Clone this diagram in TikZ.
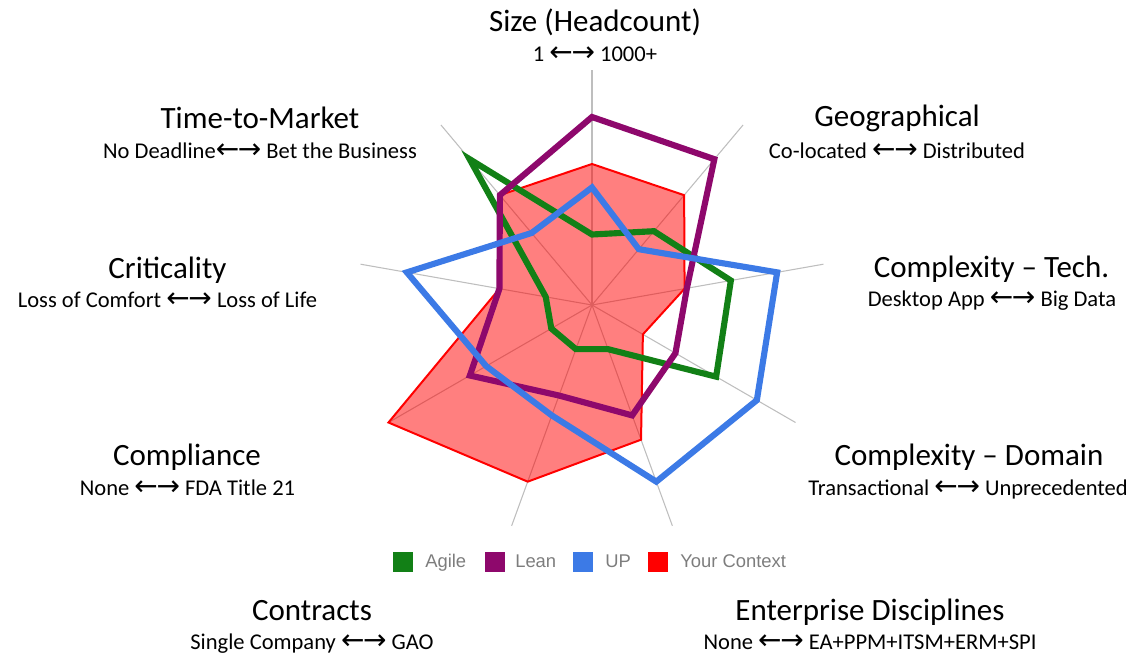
\documentclass[tikz,border=0pt]{standalone}
\usepackage{fontspec}
\setmainfont{Carlito}
\newfontfamily\legendfont{Liberation Sans}
\newfontfamily\arrowfont{DejaVu Sans}
\usetikzlibrary{calc}
\definecolor{agile}{RGB}{18,128,22}
\definecolor{lean}{RGB}{142,8,108}
\definecolor{up}{RGB}{60,122,230}
\definecolor{context}{RGB}{255,0,0}
\definecolor{spokegray}{RGB}{190,190,190}
\definecolor{legendgray}{RGB}{125,125,125}
\newcommand{\lrarrows}{{\arrowfont\fontsize{21}{20}\selectfont ←\kern-1pt→}}

\begin{document}
\begin{tikzpicture}[x=0.75pt,y=-0.75pt]
	\tikzset{spoke/.style = {draw=spokegray, line width=0.8pt}}
	\tikzset{series/.style = {line width=4.6pt, line join=miter}}
	\tikzset{contextarea/.style = {fill=context, fill opacity=0.5, draw=context, line width=1.5pt, line join=miter}}
	\tikzset{axtitle/.style = {anchor=base, inner sep=0pt, font=\fontsize{23.25}{28}\selectfont}}
	\tikzset{axrange/.style = {anchor=base, inner sep=0pt, font=\fontsize{16.9}{20}\selectfont}}
	\tikzset{legbox/.style = {minimum size=15pt, inner sep=0pt}}
	\tikzset{legtext/.style = {anchor=base west, inner sep=0pt, text=legendgray, font=\legendfont\fontsize{13.8}{15}\selectfont}}

	\useasboundingbox (0,0) rectangle (1140,660);

	% centre and axis ends, clockwise from the top
	\coordinate (c) at (592,305);
	\foreach \a [count=\i] in {0,40,...,320}
		\coordinate (ax\i) at ($(c)+(\a-90:235)$);
	\foreach \i in {1,...,9}
		\draw[spoke] (c) -- (ax\i);

	% Your Context
	\filldraw[contextarea] ($(c)!.60!(ax1)$) -- ($(c)!.61!(ax2)$) -- ($(c)!.40!(ax3)$)
		-- ($(c)!.25!(ax4)$) -- ($(c)!.61!(ax5)$) -- ($(c)!.80!(ax6)$)
		-- ($(c)!1!(ax7)$) -- ($(c)!.40!(ax8)$) -- ($(c)!.61!(ax9)$) -- cycle;

	% Agile
	\draw[series, draw=agile] ($(c)!.30!(ax1)$) -- ($(c)!.41!(ax2)$) -- ($(c)!.60!(ax3)$)
		-- ($(c)!.61!(ax4)$) -- ($(c)!.20!(ax5)$) -- ($(c)!.20!(ax6)$)
		-- ($(c)!.20!(ax7)$) -- ($(c)!.20!(ax8)$) -- ($(c)!.81!(ax9)$) -- cycle;

	% Lean
	\draw[series, draw=lean] ($(c)!.80!(ax1)$) -- ($(c)!.81!(ax2)$) -- ($(c)!.41!(ax3)$)
		-- ($(c)!.41!(ax4)$) -- ($(c)!.50!(ax5)$) -- ($(c)!.41!(ax6)$)
		-- ($(c)!.60!(ax7)$) -- ($(c)!.40!(ax8)$) -- ($(c)!.61!(ax9)$) -- cycle;

	% UP
	\draw[series, draw=up] ($(c)!.50!(ax1)$) -- ($(c)!.31!(ax2)$) -- ($(c)!.80!(ax3)$)
		-- ($(c)!.81!(ax4)$) -- ($(c)!.80!(ax5)$) -- ($(c)!.50!(ax6)$)
		-- ($(c)!.52!(ax7)$) -- ($(c)!.80!(ax8)$) -- ($(c)!.40!(ax9)$) -- cycle;

	% axis labels
	\node[axtitle] (size) at (595,31.5) {Size (Headcount)};
	\node[axrange] (sizerange) at (595,61.5) {1 \lrarrows{} 1000+};
	\node[axtitle] (geo) at (897,127) {Geographical};
	\node[axrange] (georange) at (897,158) {Co-located \lrarrows{} Distributed};
	\node[axtitle] (tech) at (991.5,277) {Complexity – Tech.};
	\node[axrange] (techrange) at (992,306) {Desktop App \lrarrows{} Big Data};
	\node[axtitle] (domain) at (969,465) {Complexity – Domain};
	\node[axrange] (domainrange) at (968,495) {Transactional \lrarrows{} Unprecedented};
	\node[axtitle] (ent) at (870,620) {Enterprise Disciplines};
	\node[axrange] (entrange) at (870,649) {None \lrarrows{} EA+PPM+ITSM+ERM+SPI};
	\node[axtitle] (contracts) at (312,620) {Contracts};
	\node[axrange] (contractsrange) at (312,649) {Single Company \lrarrows{} GAO};
	\node[axtitle] (compliance) at (187,465) {Compliance};
	\node[axrange] (compliancerange) at (187.5,495) {None \lrarrows{} FDA Title 21};
	\node[axtitle] (crit) at (167.5,278) {Criticality};
	\node[axrange] (critrange) at (167.5,307) {Loss of Comfort \lrarrows{} Loss of Life};
	\node[axtitle] (ttm) at (260,128) {Time-to-Market};
	\node[axrange] (ttmrange) at (260,158) {No Deadline\lrarrows{} Bet the Business};

	% legend
	\node[legbox, fill=agile] (agilekey) at (403,562) {};
	\node[legtext] (agilelabel) at (425,567) {Agile};
	\node[legbox, fill=lean] (leankey) at (495,562) {};
	\node[legtext] (leanlabel) at (515,567) {Lean};
	\node[legbox, fill=up] (upkey) at (583,562) {};
	\node[legtext] (uplabel) at (605,567) {UP};
	\node[legbox, fill=context] (contextkey) at (658,562) {};
	\node[legtext] (contextlabel) at (680,567) {Your Context};
\end{tikzpicture}
\end{document}
